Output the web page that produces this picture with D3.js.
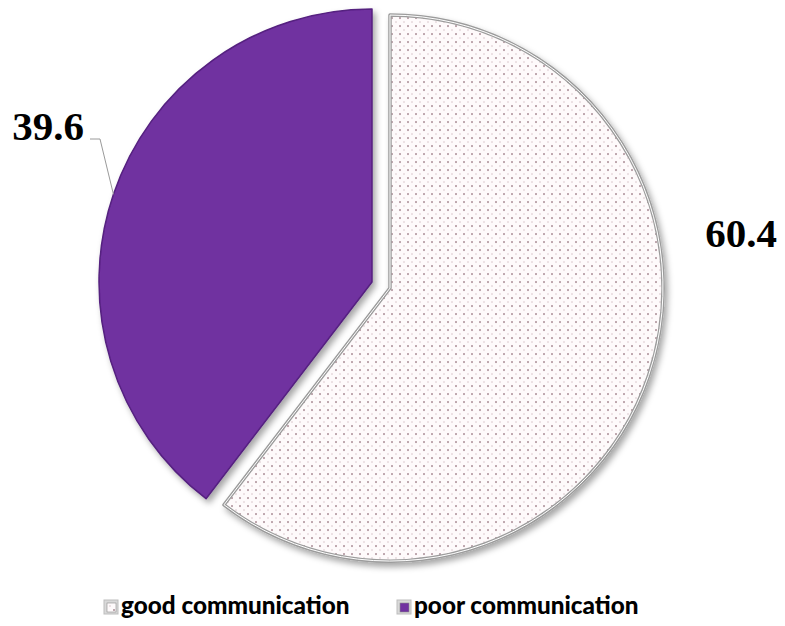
<!DOCTYPE html>
<html>
<head>
<meta charset="utf-8">
<script src="https://cdn.jsdelivr.net/npm/d3@7"></script>
<style>
  html, body { margin: 0; padding: 0; background: #fff; }
  svg { display: block; }
</style>
</head>
<body>
<div id="viz"></div>
<script>
// chart data
var categories = ["good communication", "poor communication"];
var values = [60.4, 39.6];
var valueLabels = ["60.4", "39.6"];
var colors = ["url(#dots)", "#7030a0"];

var width = 785, height = 626;
var cx = 381, cy = 285, radius = 273, explode = 9.5;

var svg = d3.select('#viz').append('svg')
  .attr('width', width).attr('height', height);

var defs = svg.append('defs');

// dotted fill used for the "good" slice
var pat = defs.append('pattern')
  .attr('id', 'dots').attr('patternUnits', 'userSpaceOnUse')
  .attr('width', 8).attr('height', 8);
pat.append('rect').attr('width', 8).attr('height', 8).attr('fill', '#fefafb');
pat.append('circle').attr('cx', 2).attr('cy', 2).attr('r', 1).attr('fill', '#a98c94');
pat.append('circle').attr('cx', 6).attr('cy', 6).attr('r', 0.8).attr('fill', '#d6c1c7');

var shadow = defs.append('filter').attr('id', 'shadow')
  .attr('x', '-10%').attr('y', '-10%').attr('width', '120%').attr('height', '120%');
shadow.append('feDropShadow')
  .attr('dx', 3).attr('dy', 4).attr('stdDeviation', 3)
  .attr('flood-color', '#000').attr('flood-opacity', 0.35);

var pie = d3.pie().sort(null).value(function(d) { return d; });
var arcs = pie(values);

var arc = d3.arc().innerRadius(0).outerRadius(radius);

function offsetOf(d, dist) {
  var mid = (d.startAngle + d.endAngle) / 2;
  return [Math.sin(mid) * dist, -Math.cos(mid) * dist];
}

var g = svg.append('g').attr('transform', 'translate(' + cx + ',' + cy + ')');

var slices = g.selectAll('g.slice').data(arcs).enter().append('g')
  .attr('class', 'slice')
  .attr('transform', function(d) {
    var o = offsetOf(d, explode);
    return 'translate(' + o[0] + ',' + o[1] + ')';
  });

slices.append('path')
  .attr('d', arc)
  .attr('fill', function(d, i) { return colors[i]; })
  .attr('stroke', function(d, i) { return i === 0 ? '#9c9c9c' : '#54207f'; })
  .attr('stroke-width', function(d, i) { return i === 0 ? 3.5 : 1.5; })
  .attr('stroke-linejoin', 'round')
  .attr('filter', 'url(#shadow)');

// inner light line to give the double border on the dotted slice
slices.filter(function(d, i) { return i === 0; }).append('path')
  .attr('d', arc)
  .attr('fill', 'none')
  .attr('stroke', '#ffffff')
  .attr('stroke-width', 1);

// value labels
var labelFont = '"Liberation Serif", "Times New Roman", serif';

// good: to the right of the pie
svg.append('text')
  .attr('x', cx + 360).attr('y', 247)
  .attr('text-anchor', 'middle')
  .style('font-family', labelFont).style('font-weight', 'bold').style('font-size', '41px')
  .text(valueLabels[0]);

// poor: upper left with a leader line to the slice edge
var pd = arcs[1];
var po = offsetOf(pd, explode);
var edge = offsetOf(pd, radius);
var ex = cx + po[0] + edge[0], ey = cy + po[1] + edge[1];
svg.append('text')
  .attr('x', 48).attr('y', 140)
  .attr('text-anchor', 'middle')
  .style('font-family', labelFont).style('font-weight', 'bold').style('font-size', '41px')
  .text(valueLabels[1]);
svg.append('polyline')
  .attr('points', [[90, 139], [100, 139], [ex, ey]].map(function(p) { return p.join(','); }).join(' '))
  .attr('fill', 'none').attr('stroke', '#9a9a9a').attr('stroke-width', 1);

// legend
var legendFont = 'Lato, "Open Sans", sans-serif';
var legendX = [104, 397];
var legend = svg.selectAll('g.legend').data(categories).enter().append('g')
  .attr('class', 'legend')
  .attr('transform', function(d, i) { return 'translate(' + legendX[i] + ',600)'; });

legend.append('rect')
  .attr('width', 14).attr('height', 14)
  .attr('fill', '#d9d9d9').attr('stroke', '#bdbdbd').attr('stroke-width', 1);
legend.append('rect')
  .attr('x', 3).attr('y', 3).attr('width', 9).attr('height', 9)
  .attr('fill', function(d, i) { return colors[i]; })
  .attr('stroke', '#8c8c8c').attr('stroke-width', 0.6);

var legendText = legend.append('text')
  .attr('x', 17).attr('y', 14)
  .style('font-family', legendFont).style('font-weight', 900).style('font-size', '20px')
  .attr('fill', '#000')
  .text(function(d) { return d; });

// scale the legend font so the labels span the same width as in the original
var w0 = legendText.node().getComputedTextLength();
var fs = 20 * 229 / w0;
legendText.style('font-size', fs.toFixed(1) + 'px');
</script>
</body>
</html>
